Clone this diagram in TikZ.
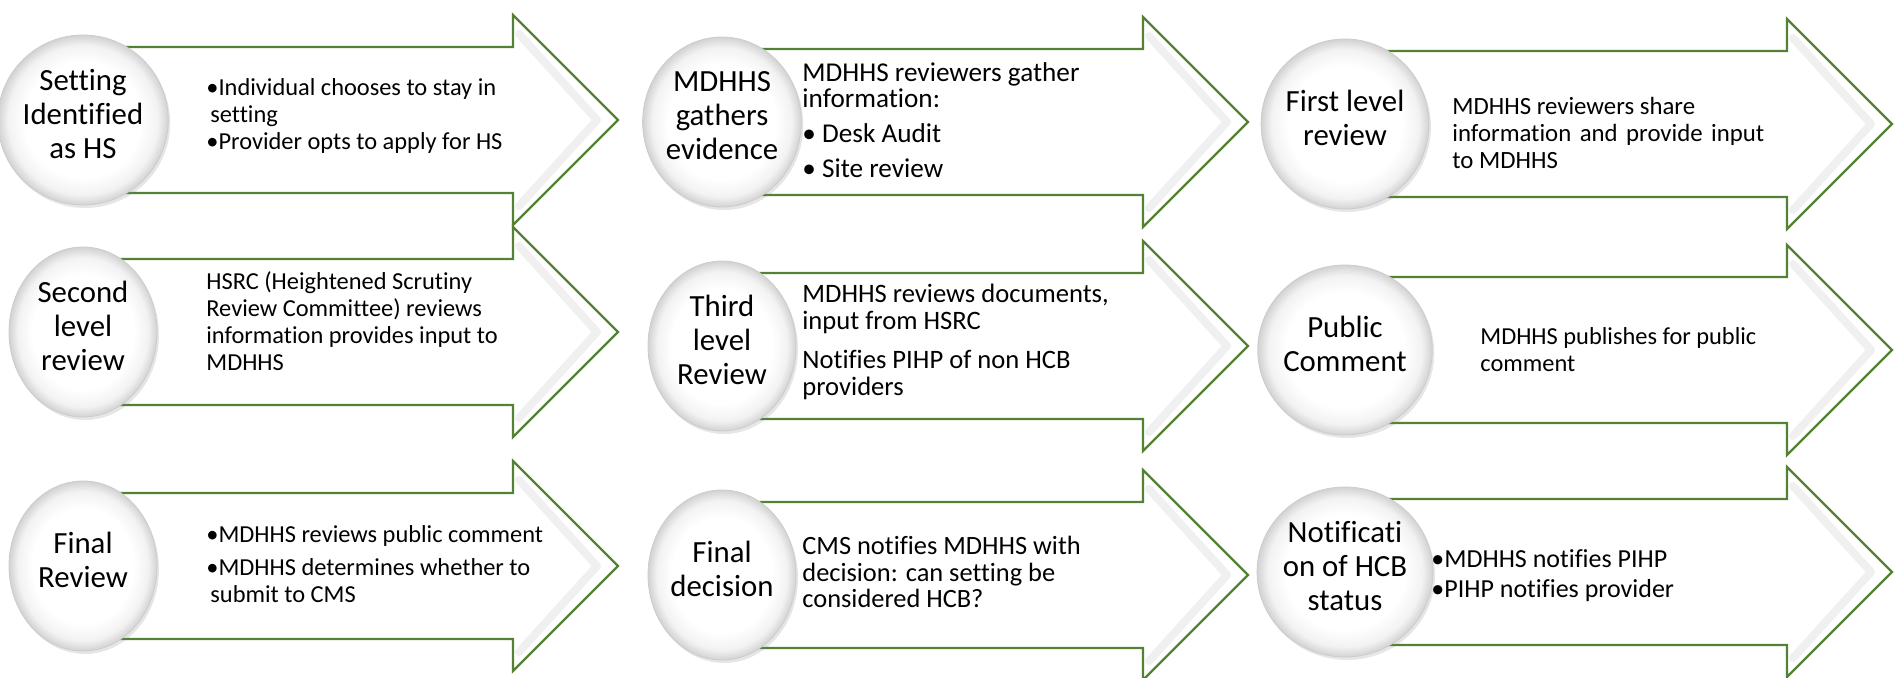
\documentclass[tikz,border=0pt]{standalone}
\usepackage{fontspec}
\setmainfont{Carlito}[Ligatures={NoCommon}]
\usetikzlibrary{shapes.geometric,shadows,positioning}
\definecolor{stepgreen}{RGB}{84,130,53}
\pgfdeclareradialshading{discshade}{\pgfpoint{0bp}{0bp}}{color(0bp)=(white); color(17bp)=(white); color(22bp)=(gray!10); color(25bp)=(gray!35); color(50bp)=(gray!35)}

\begin{document}
\begin{tikzpicture}[x=0.5pt, y=-0.5pt,
    steparrow/.style={draw=stepgreen, line width=1.1pt, fill=white, line join=miter},
    headglow/.style={draw=gray!12, line width=4pt, line join=round, line cap=round},
    stepdisc/.style={ellipse, draw=gray!40, line width=0.4pt, shading=discshade, minimum width=74pt, minimum height=85pt, inner sep=0pt, align=center, font=\fontsize{15.4}{17}\selectfont, execute at end node={\rule[-6pt]{0pt}{6pt}}, drop shadow={opacity=0.2, shadow xshift=1pt, shadow yshift=-1.5pt}},
    steptext/.style={anchor=west, align=left, inner sep=0pt, font=\fontsize{#1}{13.4}\selectfont},
    steptext/.default=12.2]
\useasboundingbox (0,0) rectangle (1902,678);

\foreach \cx/\cy/\hx in {83/120/513, 722/122/1143, 1345/124/1787,
                         83/332/513, 722/346/1143, 1345/350/1787,
                         83/566/513, 722/575/1143, 1345/572/1787} {
    \draw[steparrow] (\cx,\cy-73) -- (\hx,\cy-73) -- (\hx,\cy-105) -- (\hx+105,\cy)
        -- (\hx,\cy+105) -- (\hx,\cy+73) -- (\cx,\cy+73) -- cycle;
    \draw[headglow] (\hx+6,\cy-86) -- (\hx+84,\cy) -- (\hx+6,\cy+86);
}

\node[stepdisc] (setting) at (83,120) {Setting\\Identified\\as HS};
\node[stepdisc] (gather) at (722,122) {MDHHS\\gathers\\evidence};
\node[stepdisc] (firstrev) at (1345,124) {First level\\review};
\node[stepdisc] (secondrev) at (83,332) {Second\\level\\review};
\node[stepdisc] (thirdrev) at (722,346) {Third\\level\\Review};
\node[stepdisc] (public) at (1345,350) {Public\\Comment};
\node[stepdisc] (finalrev) at (83,566) {Final\\Review};
\node[stepdisc] (finaldec) at (722,575) {Final\\decision};
\node[stepdisc] (notify) at (1345,572) {Notificati\\on of HCB\\status};

\node[steptext] (setting-txt) at (206,116) {•Individual chooses to stay in\\\hspace*{2pt}setting\\•Provider opts to apply for HS};
\node[steptext=13.6] (gather-txt) at (802,120) {MDHHS reviewers gather\\information:\\[4pt]• Desk Audit\\[4pt]• Site review};
\node[steptext=12.4] (firstrev-txt) at (1452,133) {MDHHS reviewers share\\\makebox[156pt][s]{information and provide input}\\to MDHHS};
\node[steptext] (secondrev-txt) at (206,321) {HSRC (Heightened Scrutiny\\Review Committee) reviews\\information provides input to\\MDHHS};
\node[steptext=13.3] (thirdrev-txt) at (802,342) {MDHHS reviews documents,\\input from HSRC\\[6pt]Notifies PIHP of non HCB\\providers};
\node[steptext] (public-txt) at (1480,350) {MDHHS publishes for public\\comment};
\node[steptext] (finalrev-txt) at (206,564) {•MDHHS reviews public comment\\[3pt]•MDHHS determines whether to\\\hspace*{2pt}submit to CMS};
\node[steptext=13.2] (finaldec-txt) at (802,572) {CMS notifies MDHHS with\\decision: can setting be\\considered HCB?};
\node[steptext=13] (notify-txt) at (1431,576) {•MDHHS notifies PIHP\\[1.5pt]•PIHP notifies provider};
\end{tikzpicture}
\end{document}
